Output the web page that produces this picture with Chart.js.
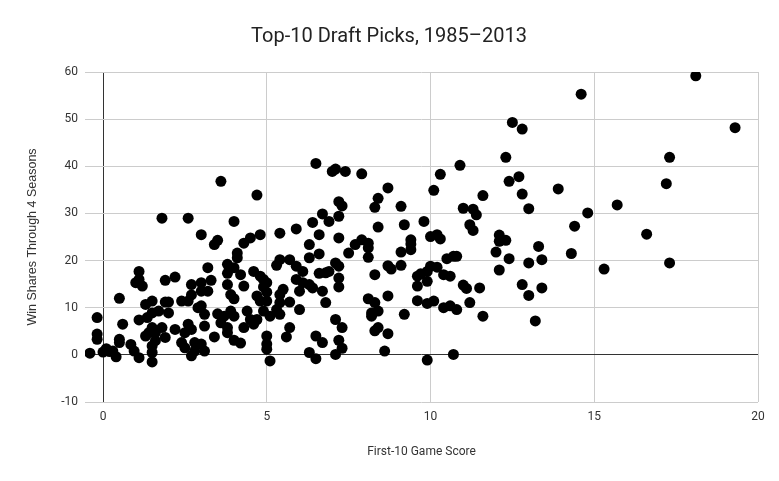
<!DOCTYPE html>
<html lang="en">
  <head>
    <meta charset="UTF-8" />
    <title>Top-10 Draft Picks, 1985–2013</title>
    <style>
      body {
        margin: 0;
        background-color: #fff;
      }
      .chart-container {
        width: 779px;
        height: 481px;
      }
    </style>
  </head>
  <body>
    <div class="chart-container">
      <canvas id="draftChart"></canvas>
    </div>

    <script src="https://cdn.jsdelivr.net/npm/chart.js"></script>
    <script>
      // First-10 game score (x) and win shares through 4 seasons (y)
      const gameScore = [
        -0.4, -0.18, -0.18, -0.18, 0, 0.1, 0.2, 0.3, 0.4, 0.5, 0.5, 0.5, 0.6, 0.85, 0.95,
        1.0, 1.1, 1.1, 1.2, 1.1, 1.1, 1.3, 1.35, 1.3, 1.4, 1.5, 1.5, 1.5, 1.5, 1.5, 1.5,
        1.6, 1.6, 1.7, 1.8, 1.8, 1.9, 1.9, 1.9, 2.0, 2.0, 2.2, 2.2, 2.4, 2.4, 2.5, 2.5,
        2.6, 2.6, 2.6, 2.7, 2.7, 2.7, 2.7, 2.8, 2.8, 2.9, 3.0, 3.0, 3.0, 3.0, 3.0, 3.1,
        3.1, 3.1, 3.2, 3.2, 3.3, 3.4, 3.4, 3.5, 3.5, 3.6, 3.6, 3.7, 3.8, 3.8, 3.8, 3.8,
        3.8, 3.9, 3.9, 4.0, 4.0, 4.0, 4.0, 4.0, 4.1, 4.1, 4.2, 4.2, 4.3, 4.3, 4.3, 4.4,
        4.5, 4.5, 4.6, 4.7, 4.6, 4.7, 4.7, 4.8, 4.8, 4.8, 4.9, 4.9, 4.9, 5.0, 5.0, 5.0,
        5.0, 5.0, 5.0, 5.1, 5.1, 5.3, 5.3, 5.4, 5.4, 5.4, 5.4, 5.4, 5.5, 5.6, 5.7, 5.7,
        5.7, 5.9, 5.9, 5.9, 6.0, 6.0, 6.1, 6.1, 6.3, 6.3, 6.3, 6.3, 6.4, 6.4, 6.5, 6.5,
        6.5, 6.6, 6.6, 6.6, 6.7, 6.7, 6.7, 6.8, 6.8, 6.9, 6.9, 7.0, 7.1, 7.1, 7.1, 7.1,
        7.2, 7.2, 7.2, 7.2, 7.2, 7.2, 7.3, 7.2, 7.3, 7.3, 7.4, 7.5, 7.7, 7.9, 7.9, 8.1,
        8.1, 8.1, 8.1, 8.2, 8.2, 8.3, 8.3, 8.3, 8.3, 8.4, 8.4, 8.4, 8.4, 8.6, 8.7, 8.7,
        8.7, 8.7, 8.8, 9.1, 9.1, 9.1, 9.2, 9.2, 9.4, 9.4, 9.4, 9.6, 9.6, 9.6, 9.8, 9.7,
        9.9, 9.9, 9.9, 9.9, 10.0, 10.0, 10.1, 10.1, 10.2, 10.2, 10.3, 10.3, 10.4, 10.4,
        10.5, 10.6, 10.6, 10.7, 10.8, 10.7, 10.8, 10.9, 11.0, 11.0, 11.1, 11.2, 11.2,
        11.3, 11.4, 11.3, 11.5, 11.6, 11.6, 12.0, 12.1, 12.1, 12.1, 12.3, 12.3, 12.4,
        12.4, 12.5, 12.7, 12.8, 12.8, 12.8, 13.0, 13.0, 13.0, 13.2, 13.3, 13.4, 13.4,
        13.9, 14.3, 14.4, 14.6, 14.8, 15.3, 15.7, 16.6, 17.2, 17.3, 17.3, 18.1, 19.3,
      ];
      const winShares = [
        0.35, 7.9, 4.4, 3.3, 0.6, 1.3, 0.7, 0.8, -0.4, 12, 3.3, 2.6, 6.5, 2.2, 0.8,
        15.3, 17.7, 16, 14.6, 7.4, -0.6, 10.7, 7.9, 4.0, 4.7, 11.4, 8.9, 5.8, 1.9, 0.5, -1.5,
        4.7, 3, 9.3, 29, 5.8, 15.8, 3.7, 11.2, 11.2, 8.9, 16.5, 5.4, 11.4, 2.6, 1.5, 4.7,
        6.5, 29, 11.4, 14.9, 12.7, 5.4, -0.2, 2.6, 0.8, 10, 25.5, 15.3, 13.5, 10.4, 2.3, 8.6,
        6.1, 0.8, 18.5, 13.5, 15.8, 3.8, 23.4, 24.3, 8.7, 36.8, 6.8, 8.2, 19.2, 17.3, 14.9, 5.8,
        4.7, 9.3, 12.8, 11.9, 28.3, 18.5, 3.1, 8.2, 20.6, 21.6, 17, 2.5, 14.6, 5.8, 23.7, 9.3,
        24.8, 7.5, 6.5, 7.5, 17.7, 33.9, 12.5, 25.5, 16.7, 11.4, 9.3, 16, 14.4, 15.3, 13.3, 11.4,
        4.0, 2.3, 1.2, 8.2, -1.3, 9.6, 19, 25.8, 20.2, 12.8, 11.1, 8.6, 13.9, 3.8, 20.2, 11.2,
        5.8, 26.7, 18.8, 16, 9.6, 13.5, 17.7, 15.3, 23.4, 20.6, 14.9, 0.5, 28.1, 14.2, 40.6, 4.0,
        -0.8, 25.5, 21.4, 17.3, 2.6, 29.9, 13.5, 17.4, 11.1, 17.7, 28.3, 38.9, 39.4, 7.5, 0.1, 19.5,
        29.4, 24.8, 16.3, 14.4, 3.1, 32.5, 31.6, 18.8, 5.8, 1.4, 38.9, 21.6, 23.4, 38.4, 24.4, 23.7,
        22.7, 20.7, 11.9, 8.9, 8.2, 31.3, 17, 5.1, 11.1, 33.2, 27.1, 9.3, 5.8, 0.8, 35.4, 18.9,
        12.5, 4.5, 18.2, 31.5, 21.8, 19, 27.6, 8.6, 24.4, 23.5, 22.3, 16.7, 14.6, 11.5, 28.3, 17.2,
        17.7, 15.6, 10.9, -1.1, 25.1, 18.8, 34.9, 11.4, 18.6, 25.5, 24.6, 38.3, 17, 10,
        20.4, 16.7, 10.4, 20.9, 20.9, 0.1, 9.6, 40.2, 31.1, 14.8, 14.1, 11.1, 27.6,
        30.9, 29.7, 26.4, 14.2, 33.8, 8.2, 21.8, 25.4, 24.1, 18, 24.3, 41.9, 36.8,
        20.4, 49.3, 37.8, 47.9, 34.1, 14.9, 31, 19.5, 12.6, 7.2, 23, 20.2, 14.2,
        35.2, 21.5, 27.3, 55.3, 30.1, 18.2, 31.8, 25.6, 36.3, 41.9, 19.5, 59.2, 48.2,
      ];
      const xTickValues = [0, 5, 10, 15, 20];
      const yTickValues = [-10, 0, 10, 20, 30, 40, 50, 60];

      const points = gameScore.map((x, i) => ({ x: x, y: winShares[i] }));

      const gridColor = (ctx) =>
        ctx.tick && ctx.tick.value === 0 ? "#333333" : "#cccccc";

      const config = {
        type: "scatter",
        data: {
          datasets: [
            {
              label: "Win Shares",
              data: points,
              backgroundColor: "#000000",
              borderWidth: 0,
              pointRadius: 5.5,
              pointHoverRadius: 5.5,
            },
          ],
        },
        options: {
          responsive: true,
          maintainAspectRatio: false,
          animation: false,
          layout: {
            padding: { left: 20, right: 21, top: 0, bottom: 0 },
          },
          plugins: {
            legend: { display: false },
            tooltip: { enabled: false },
            title: {
              display: true,
              text: "Top-10 Draft Picks, 1985–2013",
              color: "#222222",
              font: { family: "Roboto", size: 20, weight: "normal" },
              padding: { top: 25, bottom: 23 },
            },
          },
          scales: {
            x: {
              type: "linear",
              min: -0.55,
              max: 20,
              afterBuildTicks: (scale) => {
                scale.ticks = xTickValues.map((v) => ({ value: v }));
              },
              afterFit: (scale) => {
                scale.height = 79;
              },
              grid: { color: gridColor, drawTicks: false, lineWidth: 1 },
              border: { display: false },
              ticks: {
                color: "#333333",
                padding: 8,
                font: { family: "Roboto", size: 12 },
              },
              title: {
                display: true,
                text: "First-10 Game Score",
                color: "#333333",
                font: { family: "Roboto", size: 12 },
                padding: { top: 20, bottom: 22 },
              },
            },
            y: {
              min: -10,
              max: 60,
              afterBuildTicks: (scale) => {
                scale.ticks = yTickValues.map((v) => ({ value: v }));
              },
              afterFit: (scale) => {
                scale.width = 65;
              },
              grid: { color: gridColor, drawTicks: false, lineWidth: 1 },
              border: { display: false },
              ticks: {
                color: "#333333",
                padding: 7,
                font: { family: "Roboto", size: 12 },
              },
              title: {
                display: true,
                text: "Win Shares Through 4 Seasons",
                color: "#333333",
                font: { family: "Liberation Sans", size: 12.5 },
                padding: { top: 5, bottom: 0 },
              },
            },
          },
        },
      };

      new Chart(document.getElementById("draftChart"), config);
    </script>
  </body>
</html>
